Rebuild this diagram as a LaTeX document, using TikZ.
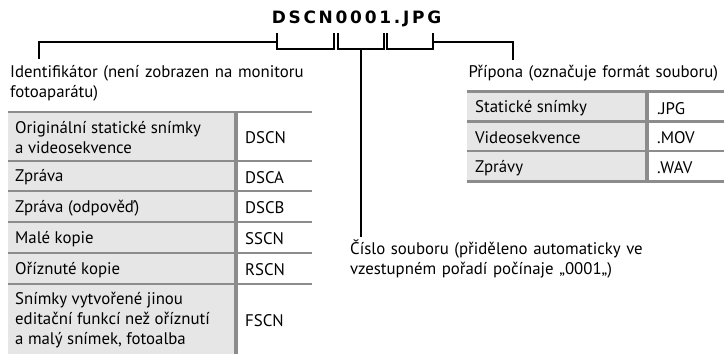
\documentclass[tikz,border=0pt]{standalone}
\usepackage{fontspec}
\setmainfont{PT Sans}
\newfontfamily\titlefont{DejaVu Sans}
\usetikzlibrary{positioning}
\definecolor{rulegray}{HTML}{8C8C8C}
\definecolor{cellgray}{HTML}{E6E6E6}
\tikzset{
  bracket/.style={line width=1.8pt, line cap=butt, line join=miter},
  gridline/.style={draw=rulegray, line width=2.6pt},
  lbl/.style={inner sep=0pt, align=left, anchor=base west},
  cell/.style={inner sep=0pt, align=left, anchor=west},
}
\begin{document}
\begin{tikzpicture}[x=1pt, y=-1pt, font=\fontsize{16.8}{20}\selectfont]
\useasboundingbox (0,0) rectangle (724,354);
\def\yt{33.3} \def\yb{49.3} \def\ym{41.7}% zavorky
% nazev souboru
\node[inner sep=0pt, anchor=base] (title) at (356.5,23.5)
  {\titlefont\fontsize{17}{17}\selectfont\bfseries\addfontfeature{LetterSpace=16}DSCN0001.JPG};
\foreach \a/\b [count=\i] in {277.3/334, 338.3/384, 386.7/433.3}
  \draw[bracket] (\a,\yt)--(\a,\yb)--(\b,\yb)--(\b,\yt);
% popisky
\node[lbl, text width=330pt] (ident) at (10,77.5) {Identifikátor (není zobrazen na monitoru\\fotoaparátu)};
\node[lbl, text width=260pt] (pripona) at (468.3,77.5) {Přípona (označuje formát souboru)};
\node[lbl, text width=330pt] (cislo) at (350,254.3) {Číslo souboru (přiděleno automaticky ve\\vzestupném pořadí počínaje „0001„)};
\coordinate (identend) at (39,59);
\coordinate (priponaend) at (513,60);
\coordinate (cisloend) at (361,237);
\draw[bracket] (277.3,\ym) -| (identend);
\draw[bracket] (433.3,\ym) -| (priponaend);
\draw[bracket] (361,\yb) -- (cisloend);
% tabulka identifikatoru
\foreach \t/\b/\txt/\kod [count=\i] in {112/161/{Originální statické snímky\\a videosekvence}/DSCN,
    161/191/Zpráva/DSCA, 191/222/{Zpráva (odpověď)}/DSCB, 222/253/{Malé kopie}/SSCN,
    253/284/{Oříznuté kopie}/RSCN,
    284/354/{Snímky vytvořené jinou\\editační funkcí než oříznutí\\a malý snímek, fotoalba}/FSCN}
{
  \fill[cellgray] (8,\t) rectangle (236,\b);
  \node[cell] (id\i) at (15,{(\t+\b)/2+1.5}) {\txt};
  \node[cell] (kod\i) at (245,{(\t+\b)/2+1.5}) {\kod};
}
\foreach \y in {112,161,191,222,253,284}
  \draw[gridline] (8,\y) -- (312,\y);
\draw[gridline, line width=3.2pt] (236,112) -- (236,354);
% tabulka pripon
\foreach \t/\b/\txt/\kod [count=\i] in {91.7/121.7/{Statické snímky}/.JPG,
    121.7/151/Videosekvence/.MOV, 151/181.7/Zprávy/.WAV}
{
  \fill[cellgray] (466.7,\t) rectangle (647,\b);
  \node[cell] (typ\i) at (475,{(\t+\b)/2+1.5}) {\txt};
  \node[cell] (pri\i) at (657,{(\t+\b)/2+1.5}) {\kod};
}
\foreach \y in {91.7,121.7,151,181.7}
  \draw[gridline] (466.7,\y) -- (724,\y);
\draw[gridline, line width=3.2pt] (647,91.7) -- (647,181.7);
\end{tikzpicture}
\end{document}
